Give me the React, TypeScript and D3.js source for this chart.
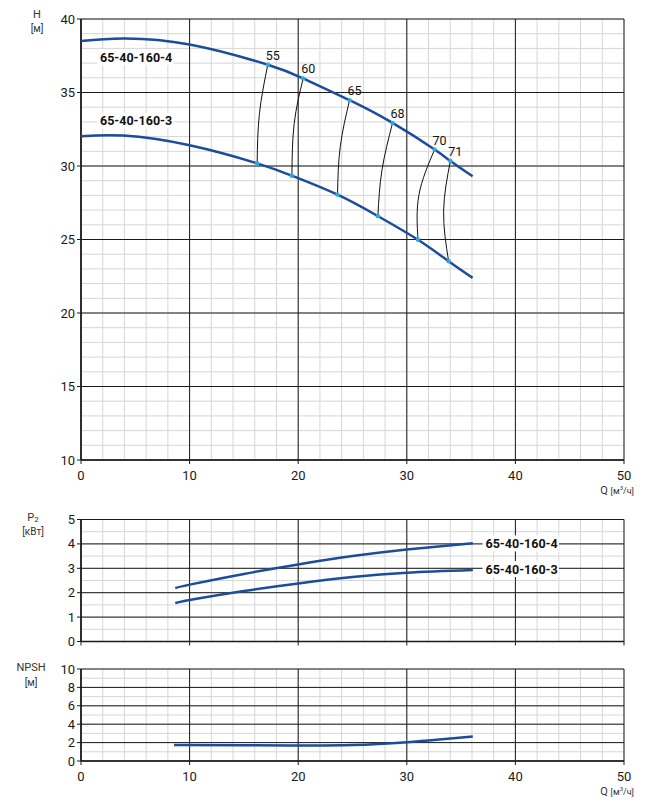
import React from 'react';
import * as d3 from 'd3';

// --- DATA ---
// Q-H curves [Q m3/h, H m]
const headCurve4: [number, number][] = [
  [0, 38.5], [3.9, 38.68], [10, 38.27], [17.2, 36.89], [20.46, 35.96], [24.73, 34.48],
  [28.69, 32.93], [32.56, 31.12], [34.01, 30.34], [36.06, 29.3],
];
const headCurve3: [number, number][] = [
  [0, 32.02], [3.9, 32.07], [10, 31.41], [16.22, 30.18], [19.42, 29.34], [23.62, 28.05],
  [27.34, 26.59], [31.03, 24.98], [33.85, 23.52], [36.06, 22.39],
];

// iso-efficiency lines: label, top point, middle, bottom point
const effLabels = ['55', '60', '65', '68', '70', '71'];
const effLines: [number, number][][] = [
  [[17.2, 36.89], [16.43, 33.57], [16.22, 30.18]],
  [[20.46, 35.96], [19.63, 32.89], [19.42, 29.34]],
  [[24.73, 34.48], [23.87, 31.3], [23.62, 28.05]],
  [[28.69, 32.93], [27.71, 29.71], [27.34, 26.59]],
  [[32.56, 31.12], [31.12, 28.05], [31.03, 24.98]],
  [[34.01, 30.34], [33.39, 26.93], [33.85, 23.52]],
];

// power curves [Q, P2 kW]
const powerCurve4: [number, number][] = [
  [8.68, 2.19], [10, 2.33], [15, 2.77], [20, 3.16], [25, 3.5], [30, 3.77], [36.08, 4.03],
];
const powerCurve3: [number, number][] = [
  [8.68, 1.57], [10, 1.7], [15, 2.07], [20, 2.38], [25, 2.64], [30, 2.82], [36.08, 2.93],
];

// NPSH curve [Q, m]
const npshCurve: [number, number][] = [
  [8.57, 1.73], [15, 1.71], [20, 1.69], [25, 1.74], [30, 2.05], [33, 2.34], [36.08, 2.66],
];

const pumpNames = ['65-40-160-4', '65-40-160-3'];
const xTicks = [0, 10, 20, 30, 40, 50];
const hTicks = [10, 15, 20, 25, 30, 35, 40];
const pTicks = [0, 1, 2, 3, 4, 5];
const npshTicks = [0, 2, 4, 6, 8, 10];

const BLUE = '#1c4c9c';
const DOT = '#29a9e1';
const FONT = 'Roboto, "Noto Sans", sans-serif';

const x = d3.scaleLinear().domain([0, 50]).range([81, 624]);

interface PanelProps {
  y: d3.ScaleLinear<number, number>;
  yTicks: number[];
  yMinor: number;
  showX: boolean;
}

const Panel: React.FC<PanelProps> = ({ y, yTicks, yMinor, showX }) => {
  const [y0, y1] = y.domain();
  const minorY = d3.range(y0, y1 + 1e-9, yMinor);
  const minorX = d3.range(0, 50.001, 2);
  const top = y(y1);
  const bottom = y(y0);
  return (
    <g>
      {minorX.map(v => (
        <line key={'mx' + v} x1={x(v)} x2={x(v)} y1={top} y2={bottom} stroke="#d6d6d6" strokeWidth={1} />
      ))}
      {minorY.map(v => (
        <line key={'my' + v} x1={x(0)} x2={x(50)} y1={y(v)} y2={y(v)} stroke="#d6d6d6" strokeWidth={1} />
      ))}
      {xTicks.map(v => (
        <line key={'Mx' + v} x1={x(v)} x2={x(v)} y1={top} y2={bottom + 4} stroke="#1a1a1a" strokeWidth={1} />
      ))}
      {yTicks.map(v => (
        <line key={'My' + v} x1={x(0) - 4} x2={x(50)} y1={y(v)} y2={y(v)} stroke="#1a1a1a" strokeWidth={1} />
      ))}
      <line x1={x(0)} x2={x(0)} y1={top} y2={bottom} stroke="#1a1a1a" strokeWidth={1.6} />
      <line x1={x(0)} x2={x(50)} y1={bottom} y2={bottom} stroke="#1a1a1a" strokeWidth={1.6} />
      {yTicks.map(v => (
        <text key={'ty' + v} x={x(0) - 6} y={y(v)} textAnchor="end" dominantBaseline="central"
          fontSize={13} fill="#1a1a1a" fontFamily={FONT}>{v}</text>
      ))}
      {showX && xTicks.map(v => (
        <text key={'tx' + v} x={x(v)} y={bottom + 15} textAnchor="middle" dominantBaseline="central"
          fontSize={13} fill="#1a1a1a" fontFamily={FONT}>{v}</text>
      ))}
      {showX && (
        <text x={634} y={bottom + 34} textAnchor="end" fontFamily={FONT} fill="#333">
          <tspan fontSize={11}>Q </tspan>
          <tspan fontSize={9}>[м</tspan>
          <tspan fontSize={6} dy={-4}>3</tspan>
          <tspan fontSize={9} dy={4}>/ч]</tspan>
        </text>
      )}
    </g>
  );
};

const LabelBox: React.FC<{ px: number; py: number; text: string }> = ({ px, py, text }) => (
  <g>
    <rect x={px - 3} y={py - 8} width={text.length * 6.5 + 5} height={16} fill="#fff" />
    <text x={px} y={py} dominantBaseline="central" fontSize={12.5} fontWeight="bold"
      fontFamily={FONT} fill="#111">{text}</text>
  </g>
);

export default function App() {
  const yH = d3.scaleLinear().domain([10, 40]).range([460, 19]);
  const yP = d3.scaleLinear().domain([0, 5]).range([641.5, 519.5]);
  const yN = d3.scaleLinear().domain([0, 10]).range([761, 669]);

  const curve = (ys: d3.ScaleLinear<number, number>) =>
    d3.line<[number, number]>().x(d => x(d[0])).y(d => ys(d[1])).curve(d3.curveNatural);
  const effLine = d3.line<[number, number]>().x(d => x(d[0])).y(d => yH(d[1])).curve(d3.curveNatural);

  return (
    <svg width={661} height={805} style={{ position: 'absolute', left: 0, top: 0, background: '#fff' }}>
      <rect width={661} height={805} fill="#fff" />

      {/* main Q-H panel */}
      <Panel y={yH} yTicks={hTicks} yMinor={1} showX={true} />
      <text x={37} y={18} textAnchor="middle" fontSize={11} fill="#333" fontFamily={FONT}>H</text>
      <text x={37} y={32} textAnchor="middle" fontSize={10} fill="#333" fontFamily={FONT}>[м]</text>

      {effLines.map((pts, i) => (
        <path key={'e' + i} d={effLine(pts) || ''} fill="none" stroke="#111" strokeWidth={1} />
      ))}
      <path d={curve(yH)(headCurve4) || ''} fill="none" stroke={BLUE} strokeWidth={2.5} />
      <path d={curve(yH)(headCurve3) || ''} fill="none" stroke={BLUE} strokeWidth={2.5} />
      {effLines.map((pts, i) => (
        <g key={'d' + i}>
          <circle cx={x(pts[0][0])} cy={yH(pts[0][1])} r={2.2} fill={DOT} />
          <circle cx={x(pts[2][0])} cy={yH(pts[2][1])} r={2.2} fill={DOT} />
          <text x={x(pts[0][0]) + 5} y={yH(pts[0][1]) - 5} textAnchor="middle" fontSize={12.5}
            fill="#111" fontFamily={FONT}>{effLabels[i]}</text>
        </g>
      ))}
      <LabelBox px={x(1.75)} py={yH(37.41)} text={pumpNames[0]} />
      <LabelBox px={x(1.75)} py={yH(33.07)} text={pumpNames[1]} />

      {/* P2 panel */}
      <Panel y={yP} yTicks={pTicks} yMinor={0.5} showX={false} />
      <text x={33} y={521} textAnchor="middle" fontSize={11} fill="#333" fontFamily={FONT}>
        P<tspan fontSize={8} dy={1}>2</tspan>
      </text>
      <text x={33} y={535} textAnchor="middle" fontSize={10} fill="#333" fontFamily={FONT}>[кВт]</text>
      <path d={curve(yP)(powerCurve4) || ''} fill="none" stroke={BLUE} strokeWidth={2.5} />
      <path d={curve(yP)(powerCurve3) || ''} fill="none" stroke={BLUE} strokeWidth={2.5} />
      <LabelBox px={x(37.25)} py={yP(4.02)} text={pumpNames[0]} />
      <LabelBox px={x(37.25)} py={yP(2.97)} text={pumpNames[1]} />

      {/* NPSH panel */}
      <Panel y={yN} yTicks={npshTicks} yMinor={1} showX={true} />
      <text x={31} y={671} textAnchor="middle" fontSize={11} fill="#333" fontFamily={FONT}>NPSH</text>
      <text x={31} y={686} textAnchor="middle" fontSize={10} fill="#333" fontFamily={FONT}>[м]</text>
      <path d={curve(yN)(npshCurve) || ''} fill="none" stroke={BLUE} strokeWidth={2.5} />
    </svg>
  );
}
